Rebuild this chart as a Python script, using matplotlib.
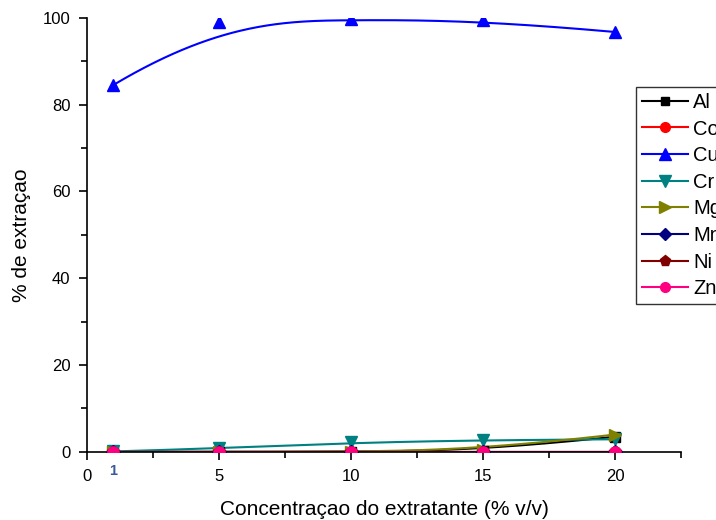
import numpy as np
import matplotlib.pyplot as plt

plt.rcParams['font.family'] = ['Liberation Sans', 'DejaVu Sans']

conc = [1, 5, 10, 15, 20]
metals = ['Al', 'Co', 'Cu', 'Cr', 'Mg', 'Mn', 'Ni', 'Zn']
al = [0.0, 0.0, 0.0, 0.3, 3.5]
co = [0.0, 0.0, 0.0, 0.0, 0.0]
cu = [84.5, 99.0, 99.6, 99.4, 96.7]
cr = [0.1, 0.8, 2.2, 2.7, 2.9]
mg = [0.0, 0.0, 0.0, 0.5, 4.0]
mn = [0.0, 0.0, 0.0, 0.0, 0.0]
ni = [0.0, 0.0, 0.0, 0.0, 0.0]
zn = [0.0, 0.0, 0.0, 0.0, 0.0]

series = [al, co, cu, cr, mg, mn, ni, zn]
colors = ['black', 'red', 'blue', '#008080', '#808000', '#000080', '#800000', '#FF0080']
markers = ['s', 'o', '^', 'v', '>', 'D', 'p', 'o']
msizes = [7, 8, 9, 9, 9, 7, 9, 8]


def basis(i, k, t, knots):
    # Cox-de Boor recursion
    if k == 0:
        last = knots[i + 1] == knots[-1] and knots[i] < knots[i + 1]
        return np.where((t >= knots[i]) & ((t < knots[i + 1]) | (last & (t == knots[-1]))), 1.0, 0.0)
    out = np.zeros_like(t)
    d1 = knots[i + k] - knots[i]
    d2 = knots[i + k + 1] - knots[i + 1]
    if d1 > 0:
        out += (t - knots[i]) / d1 * basis(i, k - 1, t, knots)
    if d2 > 0:
        out += (knots[i + k + 1] - t) / d2 * basis(i + 1, k - 1, t, knots)
    return out


def bspline(x, y, deg=3, n=300):
    # clamped B-spline with the data points as control points (Origin style)
    x = np.asarray(x, float)
    y = np.asarray(y, float)
    m = len(x)
    inner = np.linspace(0, 1, m - deg + 1)[1:-1]
    knots = np.concatenate([np.zeros(deg + 1), inner, np.ones(deg + 1)])
    t = np.linspace(0, 1, n)
    bx = np.zeros(n)
    by = np.zeros(n)
    for i in range(m):
        b = basis(i, deg, t, knots)
        bx += b * x[i]
        by += b * y[i]
    return bx, by


fig = plt.figure(figsize=(7.16, 5.2), dpi=100)
ax = fig.add_axes([0.1215, 0.131, 0.83, 0.835])

for name, vals, c, m, ms in zip(metals, series, colors, markers, msizes):
    sx, sy = bspline(conc, vals)
    ax.plot(sx, sy, color=c, lw=1.5, zorder=2)
    ax.plot(conc, vals, linestyle='none', marker=m, color=c, ms=ms, zorder=3)
    ax.plot([], [], color=c, marker=m, ms=ms - 1, lw=1.5, label=name)

ax.set_xlim(0, 22.5)
ax.set_ylim(0, 100)
ax.set_xticks([0, 5, 10, 15, 20])
ax.set_xticks([2.5, 7.5, 12.5, 17.5, 22.5], minor=True)
ax.set_yticks([0, 20, 40, 60, 80, 100])
ax.set_yticks([10, 30, 50, 70, 90], minor=True)
ax.tick_params(direction='out', length=6, width=1.2, labelsize=12, pad=6)
ax.tick_params(which='minor', direction='out', length=4, width=1.2)
ax.spines['top'].set_visible(False)
ax.spines['right'].set_visible(False)
ax.spines['left'].set_linewidth(1.2)
ax.spines['bottom'].set_linewidth(1.2)
for sp in ax.spines.values():
    sp.set_clip_on(False)

ax.text(1, -4.4, '1', color='#3a5a9a', fontsize=10.5, fontweight='bold',
        ha='center', va='center', clip_on=False)

ax.set_xlabel('Concentraçao do extratante (% v/v)', fontsize=15, labelpad=12)
ax.set_ylabel('% de extraçao', fontsize=15, labelpad=8)

leg = fig.legend(loc='upper left', bbox_to_anchor=(0.888, 0.833), fontsize=14.5,
                 frameon=True, fancybox=False, edgecolor='black', handlelength=2.3,
                 borderaxespad=0, labelspacing=0.38, handletextpad=0.25, borderpad=0.3)
leg.get_frame().set_linewidth(1.0)

fig.savefig('out.png', dpi=100)
